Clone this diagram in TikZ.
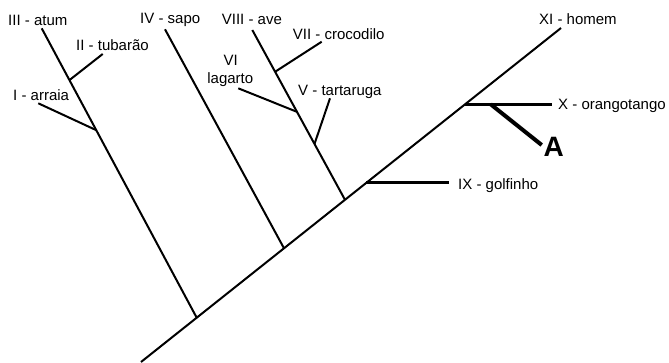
\documentclass[tikz,border=0pt]{standalone}
\usepackage{fontspec}
\setmainfont{Liberation Sans}
\usetikzlibrary{calc}
\begin{document}
\begin{tikzpicture}[x=1pt,y=-1pt,
    branch/.style={line width=2pt},
    wide branch/.style={line width=3pt},
    taxon/.style={anchor=base west, inner sep=0pt, font=\fontsize{15}{17}\selectfont}]
  \useasboundingbox (0,0) rectangle (669,362);

  % Main trunk and its branch points
  \coordinate (root) at (141,362);
  \coordinate (homemTip) at (561,28);
  \coordinate (fishNode) at (196.7,317.7);
  \coordinate (sapoNode) at (284,248.3);
  \coordinate (reptNode) at (345,199.8);
  \coordinate (golfNode) at (366.3,182.9);
  \coordinate (orangNode) at (465,104.3);
  \draw[branch] (root) -- (homemTip);

  % Fishes
  \coordinate (atumTip) at (41.7,28.3);
  \coordinate (tubNode) at ($(atumTip)!0.179!(fishNode)$);
  \coordinate (arrNode) at ($(atumTip)!0.352!(fishNode)$);
  \coordinate (tubTip) at (102.7,54);
  \coordinate (arrTip) at (38.3,103.3);
  \draw[branch] (fishNode) -- (atumTip);
  \draw[branch] (tubNode) -- (tubTip);
  \draw[branch] (arrNode) -- (arrTip);

  % Amphibian
  \coordinate (sapoTip) at (165,29.3);
  \draw[branch] (sapoNode) -- (sapoTip);

  % Reptiles and birds
  \coordinate (aveTip) at (252.3,30);
  \coordinate (crocNode) at ($(aveTip)!0.246!(reptNode)$);
  \coordinate (lagNode) at ($(aveTip)!0.482!(reptNode)$);
  \coordinate (tartNode) at ($(aveTip)!0.671!(reptNode)$);
  \coordinate (crocTip) at (321.7,41.7);
  \coordinate (lagTip) at (238.3,88.3);
  \coordinate (tartTip) at (330,98.3);
  \draw[branch] (reptNode) -- (aveTip);
  \draw[branch] (crocNode) -- (crocTip);
  \draw[branch] (lagNode) -- (lagTip);
  \draw[branch] (tartNode) -- (tartTip);

  % Mammals
  \coordinate (golfTip) at (449.3,182.9);
  \coordinate (orangTip) at (551.7,104.3);
  \coordinate (aNode) at (490.7,104.3);
  \coordinate (aTip) at (541.7,145);
  \draw[wide branch] (golfNode) -- (golfTip);
  \draw[wide branch] (orangNode) -- (orangTip);
  \draw[line width=4pt] (aNode) -- (aTip);

  % Labels
  \node[taxon] (atum) at (8,25) {III - atum};
  \node[taxon] (tubarao) at (76,50) {II - tubarão};
  \node[taxon] (arraia) at (13,100) {I - arraia};
  \node[taxon] (sapo) at (140,23) {IV - sapo};
  \node[taxon] (ave) at (221.7,24) {VIII - ave};
  \node[taxon] (crocodilo) at (292.7,39) {VII - crocodilo};
  \node[taxon, anchor=base] (lagartoNum) at (230.7,65.7) {VI};
  \node[taxon, anchor=base] (lagarto) at (230.3,83.3) {lagarto};
  \node[taxon] (tartaruga) at (298,95) {V - tartaruga};
  \node[taxon] (homem) at (539,24.3) {XI - homem};
  \node[taxon] (orangotango) at (558,109.3) {X - orangotango};
  \node[taxon] (golfinho) at (458,189.3) {IX - golfinho};
  \node[taxon, font=\fontsize{28}{32}\selectfont\bfseries] (letterA) at (543.5,156.7) {A};
\end{tikzpicture}
\end{document}
